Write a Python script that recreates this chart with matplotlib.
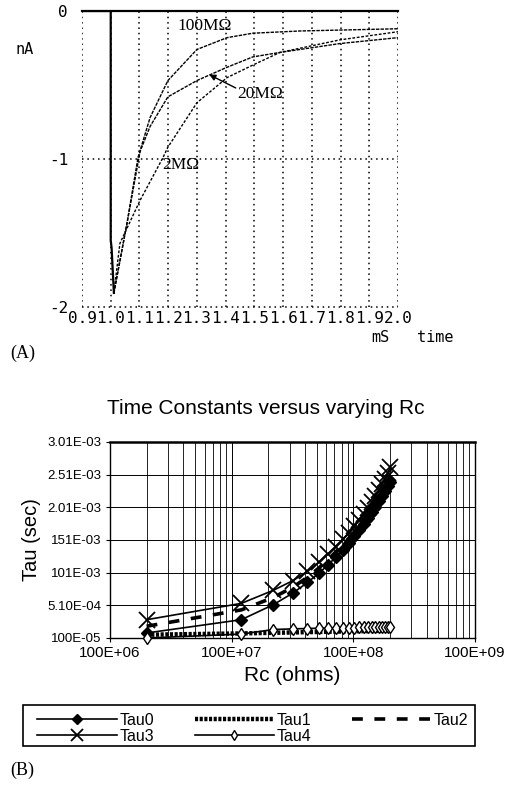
import matplotlib
matplotlib.use("Agg")
import matplotlib.pyplot as plt
from matplotlib.patches import Rectangle

# ---------------- Panel A data ----------------
a_xticks = [0.9, 1.0, 1.1, 1.2, 1.3, 1.4, 1.5, 1.6, 1.7, 1.8, 1.9, 2.0]
a_xlabels = ["0.9", "1.0", "1.1", "1.2", "1.3", "1.4", "1.5", "1.6", "1.7", "1.8", "1.9", "2.0"]
a_yticks = [0, -1, -2]
a_ylabels = ["0", "-1", "-2"]

step_t = [0.9, 1.0, 1.0, 1.003, 1.011]
step_i = [0.0, 0.0, -1.55, -1.60, -1.905]

t_100 = [1.011, 1.057, 1.095, 1.137, 1.199, 1.30, 1.405, 1.495, 1.659, 2.0]
i_100 = [-1.905, -1.43, -0.99, -0.72, -0.47, -0.26, -0.18, -0.15, -0.135, -0.12]

t_20 = [1.011, 1.057, 1.102, 1.137, 1.199, 1.30, 1.405, 1.495, 1.589, 1.798, 2.0]
i_20 = [-1.905, -1.43, -0.95, -0.78, -0.58, -0.47, -0.38, -0.31, -0.28, -0.22, -0.18]

t_2 = [1.011, 1.032, 1.102, 1.182, 1.199, 1.30, 1.405, 1.495, 1.589, 1.798, 2.0]
i_2 = [-1.905, -1.57, -1.28, -0.99, -0.92, -0.62, -0.45, -0.365, -0.28, -0.195, -0.14]

# ---------------- Panel B data ----------------
rc = [2e6, 1.2e7, 2.2e7, 3.2e7, 4.2e7, 5.2e7, 6.2e7, 7.2e7, 8.2e7, 9.2e7, 1.02e8,
      1.12e8, 1.22e8, 1.32e8, 1.42e8, 1.52e8, 1.62e8, 1.72e8, 1.82e8, 1.92e8, 2.02e8]
tau0 = [8.7e-5, 2.9e-4, 5.2e-4, 7.0e-4, 8.6e-4, 1.00e-3, 1.13e-3, 1.25e-3, 1.36e-3, 1.47e-3, 1.57e-3,
        1.67e-3, 1.76e-3, 1.85e-3, 1.94e-3, 2.02e-3, 2.10e-3, 2.18e-3, 2.26e-3, 2.33e-3, 2.40e-3]
tau1 = [6.0e-5, 8.0e-5, 9.0e-5, 9.5e-5, 1.0e-4, 1.03e-4, 1.06e-4, 1.08e-4, 1.10e-4, 1.12e-4, 1.13e-4,
        1.14e-4, 1.15e-4, 1.16e-4, 1.17e-4, 1.18e-4, 1.19e-4, 1.20e-4, 1.21e-4, 1.22e-4, 1.23e-4]
tau2 = [1.9e-4, 4.4e-4, 6.3e-4, 7.9e-4, 9.4e-4, 1.08e-3, 1.21e-3, 1.33e-3, 1.44e-3, 1.54e-3, 1.64e-3,
        1.74e-3, 1.83e-3, 1.92e-3, 2.00e-3, 2.08e-3, 2.16e-3, 2.24e-3, 2.32e-3, 2.39e-3, 2.46e-3]
tau3 = [2.9e-4, 5.4e-4, 7.4e-4, 8.9e-4, 1.03e-3, 1.17e-3, 1.30e-3, 1.41e-3, 1.52e-3, 1.62e-3, 1.72e-3,
        1.82e-3, 1.91e-3, 2.00e-3, 2.09e-3, 2.18e-3, 2.27e-3, 2.36e-3, 2.45e-3, 2.54e-3, 2.62e-3]
tau4 = [1.0e-5, 7.0e-5, 1.4e-4, 1.5e-4, 1.55e-4, 1.6e-4, 1.62e-4, 1.64e-4, 1.66e-4, 1.68e-4, 1.70e-4,
        1.71e-4, 1.72e-4, 1.73e-4, 1.74e-4, 1.75e-4, 1.76e-4, 1.77e-4, 1.78e-4, 1.79e-4, 1.80e-4]

b_yticks = [1e-5, 5.1e-4, 1.01e-3, 1.51e-3, 2.01e-3, 2.51e-3, 3.01e-3]
b_ylabels = ["100E-05", "5.10E-04", "101E-03", "151E-03", "2.01E-03", "2.51E-03", "3.01E-03"]
b_xticks = [1e6, 1e7, 1e8, 1e9]
b_xlabels = ["100E+06", "100E+07", "100E+08", "100E+09"]

W, H = 510, 785
fig = plt.figure(figsize=(W / 100, H / 100), dpi=100)

def fx(px):
    return px / W

def fy(py):
    return 1 - py / H

mono = "DejaVu Sans Mono"
serif = "Liberation Serif"
sans = "Liberation Sans"

# ---------------- Panel A ----------------
axA = fig.add_axes([fx(82), fy(307), fx(398) - fx(82), fy(11) - fy(307)])
axA.set_xlim(0.9, 2.0)
axA.set_ylim(-2, 0)
dot = (0, (1, 2.5))
for x in a_xticks:
    axA.axvline(x, color="black", lw=1.1, ls=dot, zorder=1)
axA.axhline(-1, color="black", lw=1.1, ls=dot, zorder=1)
axA.axhline(-2, color="black", lw=1.1, ls=dot, zorder=1, clip_on=False)
for s in axA.spines.values():
    s.set_visible(False)
axA.axhline(0, color="black", lw=1.6, zorder=3, clip_on=False)

axA.plot(step_t, step_i, color="black", lw=1.6, zorder=4)
axA.plot(t_100, i_100, color="black", lw=1.0, ls=(0, (2.5, 0.8)), zorder=4)
axA.plot(t_20, i_20, color="black", lw=1.0, ls=(0, (2.5, 0.8)), zorder=4)
axA.plot(t_2, i_2, color="black", lw=1.0, ls=(0, (2, 1.2)), zorder=4)

axA.set_xticks(a_xticks)
axA.set_xticklabels(a_xlabels, family=mono, fontsize=11.5)
axA.set_yticks(a_yticks)
axA.set_yticklabels(a_ylabels, family=mono, fontsize=11.5)
axA.tick_params(length=0, pad=3)
axA.tick_params(axis="y", pad=10)

axA.text(1.328, -0.10, "100MΩ", family=serif, fontsize=12.5, ha="center", va="center")
axA.text(1.52, -0.56, "20MΩ", family=serif, fontsize=12.5, ha="center", va="center")
axA.annotate("", xy=(1.343, -0.43), xytext=(1.435, -0.52),
             arrowprops=dict(arrowstyle="-|>", color="black", lw=1.0, shrinkA=0, shrinkB=0,
                             mutation_scale=9))
axA.text(1.18, -1.04, "2MΩ", family=serif, fontsize=12.5, ha="left", va="center")

fig.text(fx(25), fy(50), "nA", family=mono, fontsize=11, ha="center", va="center")
fig.text(fx(380), fy(338), "mS", family=mono, fontsize=11, ha="center", va="center")
fig.text(fx(435), fy(338), "time", family=mono, fontsize=11, ha="center", va="center")
fig.text(fx(10), fy(353), "(A)", family=serif, fontsize=13, ha="left", va="center")

# ---------------- Panel B ----------------
axB = fig.add_axes([fx(110), fy(638), fx(475) - fx(110), fy(442) - fy(638)])
axB.set_xscale("log")
axB.set_xlim(1e6, 1e9)
axB.set_ylim(1e-5, 3.01e-3)
axB.set_xticks(b_xticks)
axB.set_xticklabels(b_xlabels, family=sans, fontsize=11)
axB.set_yticks(b_yticks)
axB.set_yticklabels(b_ylabels, family=sans, fontsize=9.5)
axB.xaxis.set_minor_formatter(matplotlib.ticker.NullFormatter())
axB.grid(True, which="major", color="black", lw=0.7)
axB.grid(True, which="minor", axis="x", color="black", lw=0.6)
axB.tick_params(which="major", direction="out", length=3, width=0.8, pad=3)
axB.tick_params(which="minor", length=0)
for s in axB.spines.values():
    s.set_linewidth(1.0)
axB.spines["top"].set_linewidth(1.8)

ln0, = axB.plot(rc, tau0, color="black", lw=1.2, marker="D", ms=6, mfc="black", clip_on=False, zorder=5)
ln1, = axB.plot(rc, tau1, color="black", lw=3.2, ls=(0, (0.7, 0.35)), clip_on=False, zorder=5)
ln2, = axB.plot(rc, tau2, color="black", lw=2.6, ls=(0, (3, 3.2)), clip_on=False, zorder=5)
ln3, = axB.plot(rc, tau3, color="black", lw=1.2, marker="x", ms=11, mew=1.3, clip_on=False, zorder=5)
ln4, = axB.plot(rc, tau4, color="black", lw=1.2, marker="d", ms=6.5, mfc="white", mew=1.0, clip_on=False, zorder=6)

axB.set_xlabel("Rc (ohms)", family=sans, fontsize=15, labelpad=4)
axB.set_ylabel("Tau (sec)", family=sans, fontsize=14.5, labelpad=5)
fig.text(fx(266), fy(409), "Time Constants versus varying Rc", family=sans, fontsize=15,
         ha="center", va="center")

# legend frame drawn separately, entries placed slightly inset
fig.patches.append(Rectangle((fx(23), fy(746)), fx(475) - fx(23), fy(705) - fy(746),
                             transform=fig.transFigure, fill=False, edgecolor="black", lw=1.2))
leg = fig.legend([ln0, ln3, ln1, ln4, ln2], ["Tau0", "Tau3", "Tau1", "Tau4", "Tau2"],
                 ncol=3, loc="lower left",
                 bbox_to_anchor=(fx(35), fy(746), fx(471) - fx(35), fy(705) - fy(746)),
                 mode="expand", prop={"family": sans, "size": 11.5}, frameon=False,
                 handlelength=5.0, handletextpad=0.15,
                 borderaxespad=0, borderpad=0.15, labelspacing=0.05, columnspacing=2.5,
                 markerscale=0.8, numpoints=1)

fig.text(fx(10), fy(770), "(B)", family=serif, fontsize=13, ha="left", va="center")

fig.savefig("out.png", dpi=100)
